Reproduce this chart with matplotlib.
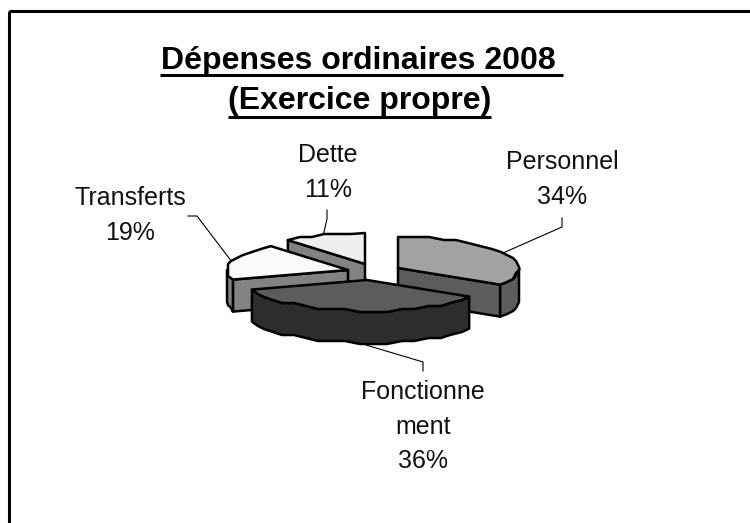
import numpy as np
import matplotlib
matplotlib.use("Agg")
import matplotlib.pyplot as plt
from matplotlib.patches import Polygon

plt.rcParams['font.family'] = ['Liberation Sans', 'DejaVu Sans']

# --- data ---
categories = ["Personnel", "Fonctionnement", "Transferts", "Dette"]
display_labels = ["Personnel", "Fonctionne\nment", "Transferts", "Dette"]
shares = [34, 36, 19, 11]
title_lines = ["Dépenses ordinaires 2008", "(Exercice propre)"]

# --- styling / layout ---
top_colors = ["#a2a2a2", "#5c5c5c", "#fafafa", "#efefef"]
side_colors = ["#5c5c5c", "#2d2d2d", "#828282", "#828282"]
apexes = [(398, 268), (367, 280), (348, 270), (365, 264)]
draw_order = [3, 2, 0, 1]
RX, RY, DEPTH = 121, 31, 32
EDGE = 1.8

fig = plt.figure(figsize=(7.5, 5.23), dpi=100)
ax = fig.add_axes([0, 0, 1, 1])
ax.set_xlim(0, 750)
ax.set_ylim(523, 0)
ax.axis("off")


def pt(apex, deg):
    t = np.radians(deg)
    return apex[0] + RX * np.sin(t), apex[1] - RY * np.cos(t)


def arc(apex, a1, a2, step=7.0, jag=3.0):
    n = max(int(round((a2 - a1) / step)), 1)
    out = []
    for i, d in enumerate(np.linspace(a1, a2, n + 1)):
        x, y = pt(apex, d)
        if 0 < i < n:
            x, y = round(x / jag) * jag, round(y / jag) * jag
        out.append((x, y))
    return out


def poly(points, fc, z):
    ax.add_patch(Polygon(points, closed=True, fc=fc, ec="black", lw=EDGE,
                         joinstyle="round", zorder=z))


cum = np.concatenate([[0], np.cumsum(shares)]) / np.sum(shares) * 360
z = 2
for i in draw_order:
    a1, a2 = cum[i], cum[i + 1]
    ap = apexes[i]
    side = side_colors[i]
    # radial cut faces that look towards the viewer
    for a, visible in ((a1, a1 > 180), (a2, a2 < 180)):
        if visible:
            x, y = pt(ap, a)
            poly([ap, (x, y), (x, y + DEPTH), (ap[0], ap[1] + DEPTH)], side, z)
            z += 1
    # outer wall, only the front-facing part of the rim
    f1, f2 = max(a1, 90), min(a2, 270)
    if f2 > f1:
        rim = arc(ap, f1, f2)
        poly(rim + [(x, y + DEPTH) for x, y in rim[::-1]], side, z)
        z += 1
    # top face
    poly([ap] + arc(ap, a1, a2), top_colors[i], z)
    z += 1

# title with underlines
title_pos = [(358, 68.5), (360, 109)]
for line, (x, y) in zip(title_lines, title_pos):
    ax.text(x, y, line, fontsize=23, fontweight="bold", ha="center",
            va="baseline", color="black", zorder=30)
ax.plot([160, 563], [74.5, 74.5], color="black", lw=2.2, solid_capstyle="butt", zorder=30)
ax.plot([228, 491], [117, 117], color="black", lw=2.2, solid_capstyle="butt", zorder=30)

# slice labels
label_pos = [(562, 169), (423, 399), (130, 205), (328, 162)]
for name, share, (x, y) in zip(display_labels, shares, label_pos):
    parts = name.split("\n") + [f"{share}%"]
    for k, part in enumerate(parts):
        ax.text(x, y + k * 34.7, part, fontsize=18, ha="center", va="baseline",
                color="#111111", zorder=30)

# leader lines
leaders = [
    [(562, 218), (562, 227), (503, 253)],
    [(423, 371), (423, 362), (366, 345)],
    [(188, 216), (197, 216), (232, 262)],
    [(327, 210), (327, 219), (323, 236)],
]
for seg in leaders:
    xs, ys = zip(*seg)
    ax.plot(xs, ys, color="black", lw=0.8, zorder=1)

# open frame: top and left only
ax.plot([8.5, 750], [10.5, 10.5], color="black", lw=2.2, solid_capstyle="butt", zorder=40)
ax.plot([8.5, 8.5], [10.5, 523], color="black", lw=2.2, solid_capstyle="butt", zorder=40)

fig.savefig("out.png", dpi=100, facecolor="white")
